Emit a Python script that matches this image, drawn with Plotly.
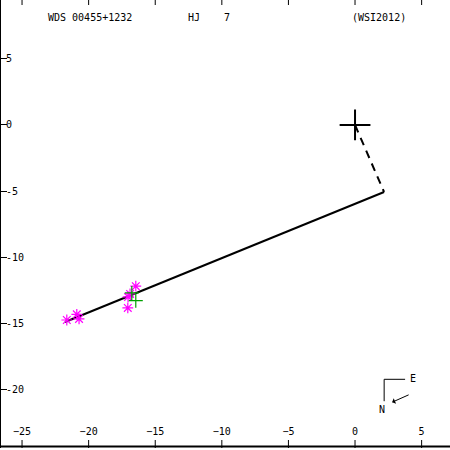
import plotly.graph_objects as go

# Data (arcsec offsets)
primary_x = [0.0]
primary_y = [0.0]
dash_x = [0.0, 2.18]
dash_y = [0.0, -5.06]
orbit_x = [2.18, -21.77]
orbit_y = [-5.06, -14.87]
obs_x = [-21.64, -20.89, -20.72, -16.46, -16.89, -17.04, -17.06]
obs_y = [-14.72, -14.29, -14.64, -12.17, -12.75, -12.98, -13.81]
grn_x = [-16.76, -16.46]
grn_y = [-12.68, -13.26]
x_ticks = [-25, -20, -15, -10, -5, 0, 5]
y_ticks = [5, 0, -5, -10, -15, -20]
y_labels = ["5", "0", "-5", "-10", "-15", "-20"]

FONT = "DejaVu Sans Mono"
XR = [-26.58, 7.13]
YR = [-24.38, 9.43]
PLOT_H = 448.0

fig = go.Figure()
fig.add_trace(go.Scatter(x=dash_x, y=dash_y, mode="lines",
                         line=dict(color="black", width=2, dash="8px,6px")))
fig.add_trace(go.Scatter(x=orbit_x, y=orbit_y, mode="lines",
                         line=dict(color="black", width=2)))
fig.add_trace(go.Scatter(x=obs_x, y=obs_y, mode="markers",
                         marker=dict(symbol="asterisk-open", size=9, color="#ff00ff",
                                     line=dict(color="#ff00ff", width=1.2))))
fig.add_trace(go.Scatter(x=grn_x, y=grn_y, mode="markers",
                         marker=dict(symbol="cross-thin-open", size=10, color="#00a000",
                                     line=dict(color="#00a000", width=1.2))))
fig.add_trace(go.Scatter(x=primary_x, y=primary_y, mode="markers",
                         marker=dict(symbol="cross-thin-open", size=22, color="black",
                                     line=dict(color="black", width=2))))

def px(x):
    return x / 450.0

def py(y):
    return 1 - y / 450.0

annots = [
    dict(x=px(45), y=py(18), text="WDS 00455+1232", xanchor="left"),
    dict(x=px(185), y=py(18), text="HJ", xanchor="left"),
    dict(x=px(221), y=py(18), text="7", xanchor="left"),
    dict(x=px(350), y=py(18), text="(WSI2012)", xanchor="left"),
    dict(x=px(408), y=py(380), text="E", xanchor="left"),
    dict(x=px(382), y=py(411), text="N", xanchor="center"),
]
for a in annots:
    fig.add_annotation(xref="paper", yref="paper", showarrow=False,
                       yanchor="middle", font=dict(family=FONT, size=10, color="black"), **a)

fig.add_annotation(xref="paper", yref="paper", x=px(392), y=py(404), text="",
                   showarrow=True, ax=18, ay=-8, arrowhead=1, arrowsize=1,
                   arrowwidth=1, arrowcolor="black")

fig.add_shape(type="line", xref="paper", yref="paper", x0=px(384), y0=py(381),
              x1=px(405), y1=py(381), line=dict(color="black", width=1))
fig.add_shape(type="line", xref="paper", yref="paper", x0=px(384), y0=py(381),
              x1=px(384), y1=py(403), line=dict(color="black", width=1))

# frame: bottom line plus tick marks on top and bottom edges at the x tick values
fig.add_shape(type="line", xref="paper", yref="paper", x0=0, x1=1,
              y0=1.5 / PLOT_H, y1=1.5 / PLOT_H, line=dict(color="black", width=2))
for v in x_ticks:
    fig.add_shape(type="line", xref="x", yref="paper", x0=v, x1=v,
                  y0=1, y1=1 - 5 / PLOT_H, line=dict(color="black", width=1))
    fig.add_shape(type="line", xref="x", yref="paper", x0=v, x1=v,
                  y0=0, y1=8 / PLOT_H, line=dict(color="black", width=1))

# left-align y labels (monospace, padded with no-break spaces)
y_text = [s + "\u00a0" * (3 - len(s)) for s in y_labels]

fig.update_layout(
    width=450, height=450,
    margin=dict(l=1, r=0, t=0, b=2),
    plot_bgcolor="white", paper_bgcolor="white",
    showlegend=False,
    font=dict(family=FONT, size=10, color="black"),
    xaxis=dict(range=XR, tickvals=x_ticks, ticks="", showline=False,
               showgrid=False, zeroline=False,
               ticklabelposition="outside", ticklabelstandoff=-24,
               tickfont=dict(family=FONT, size=10, color="black")),
    yaxis=dict(range=YR, tickvals=y_ticks, ticktext=y_text, ticks="inside", ticklen=6,
               tickcolor="black", tickwidth=1, showline=True, linecolor="black",
               linewidth=2, showgrid=False, zeroline=False,
               ticklabelposition="outside", ticklabelstandoff=-27,
               tickfont=dict(family=FONT, size=10, color="black")),
)

fig.write_html("out.html", post_script="document.body.style.margin='0';",
               config={"displayModeBar": False})
